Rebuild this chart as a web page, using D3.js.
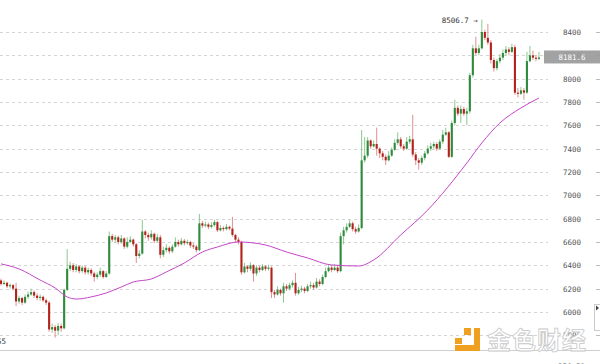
<!DOCTYPE html>
<html>
<head>
<meta charset="utf-8">
<script src="https://cdn.jsdelivr.net/npm/d3@7/dist/d3.min.js"></script>
<style>
  body { margin: 0; background: #fff; }
  svg { display: block; }
</style>
</head>
<body>
<svg id="chart"></svg>
<script>
// candle values, one entry per candle (left to right)
var opens = [
  6270, 6240, 6250, 6220, 6230, 6200, 6090, 6120, 6080, 6130,
  6150, 6170, 6140, 6120, 6130, 6100, 6080, 5850, 5870, 5840,
  5880, 5860, 6190, 6370, 6400, 6360, 6390, 6350, 6380, 6340,
  6360, 6330, 6300, 6320, 6350, 6300, 6330, 6650, 6620, 6640,
  6600, 6630, 6560, 6600, 6620, 6580, 6480, 6500, 6690, 6660,
  6640, 6670, 6610, 6640, 6490, 6530, 6550, 6520, 6560, 6600,
  6580, 6610, 6590, 6600, 6570, 6560, 6530, 6760, 6740, 6750,
  6730, 6745, 6770, 6700, 6720, 6710, 6730, 6715, 6660, 6620,
  6600, 6340, 6390, 6370, 6400, 6330, 6380, 6360, 6390, 6370,
  6380, 6170, 6150, 6190, 6160, 6220, 6200, 6230, 6250, 6160,
  6190, 6200, 6180, 6220, 6230, 6210, 6260, 6240, 6300, 6350,
  6380, 6360, 6380, 6350, 6650, 6700, 6730, 6760, 6710, 6690,
  6720, 7300, 7340, 7470, 7420, 7440, 7400, 7360, 7330, 7300,
  7340, 7390, 7450, 7480, 7420, 7400, 7460, 7480, 7350, 7300,
  7280, 7320, 7360, 7400, 7420, 7440, 7400, 7460, 7520, 7540,
  7330, 7620, 7750, 7700, 7740, 7700, 7720, 8030, 8260, 8220,
  8260, 8400, 8350, 8310, 8160, 8090, 8150, 8180, 8220, 8250,
  8230, 8270, 7880, 7870, 7900, 7880, 8150, 8200, 8180, 8170
];
var highs = [
  6285, 6270, 6260, 6245, 6240, 6250, 6140, 6130, 6150, 6175,
  6200, 6185, 6160, 6150, 6140, 6115, 6095, 5900, 5890, 5905,
  5900, 6200, 6540, 6430, 6420, 6410, 6400, 6400, 6395, 6380,
  6375, 6345, 6340, 6380, 6360, 6350, 6690, 6670, 6660, 6655,
  6660, 6640, 6640, 6650, 6630, 6590, 6530, 6790, 6700, 6680,
  6700, 6680, 6670, 6660, 6560, 6580, 6565, 6580, 6640, 6620,
  6635, 6625, 6620, 6610, 6590, 6575, 6840, 6780, 6775, 6765,
  6770, 6790, 6780, 6745, 6735, 6755, 6740, 6815, 6670, 6640,
  6610, 6420, 6400, 6425, 6410, 6400, 6395, 6410, 6400, 6405,
  6390, 6190, 6220, 6200, 6250, 6240, 6250, 6270, 6335, 6215,
  6225, 6215, 6240, 6260, 6250, 6290, 6280, 6320, 6380, 6410,
  6400, 6410, 6400, 6680, 6730, 6760, 6790, 6775, 6730, 6750,
  7560, 7500, 7500, 7480, 7470, 7580, 7410, 7380, 7350, 7380,
  7410, 7480, 7540, 7500, 7440, 7500, 7510, 7690, 7370, 7320,
  7340, 7380, 7430, 7450, 7460, 7455, 7480, 7560, 7580, 7550,
  7640, 7820, 7770, 7770, 7760, 7750, 8050, 8290, 8360, 8290,
  8506.7, 8420, 8470, 8330, 8180, 8170, 8210, 8250, 8280, 8270,
  8300, 8290, 7920, 7930, 7920, 8230, 8280, 8240, 8200, 8230
];
var lows = [
  6225, 6230, 6205, 6200, 6185, 6050, 6070, 6060, 6070, 6110,
  6140, 6120, 6100, 6095, 6085, 6060, 5830, 5820, 5780, 5800,
  5830, 5850, 6180, 6350, 6340, 6340, 6330, 6335, 6320, 6320,
  6310, 6260, 6280, 6300, 6285, 6290, 6320, 6600, 6595, 6580,
  6585, 6540, 6545, 6590, 6560, 6420, 6460, 6490, 6630, 6610,
  6620, 6590, 6595, 6460, 6470, 6510, 6500, 6505, 6550, 6560,
  6570, 6570, 6575, 6550, 6540, 6510, 6520, 6720, 6725, 6710,
  6715, 6730, 6685, 6690, 6690, 6700, 6700, 6645, 6600, 6580,
  6320, 6330, 6340, 6350, 6260, 6310, 6340, 6350, 6350, 6355,
  6120, 6120, 6140, 6140, 6080, 6180, 6185, 6210, 6140, 6150,
  6170, 6160, 6170, 6200, 6190, 6200, 6220, 6230, 6290, 6340,
  6340, 6350, 6335, 6340, 6580, 6680, 6720, 6690, 6670, 6680,
  6710, 7280, 7320, 7400, 7410, 7340, 7320, 7300, 7260, 7290,
  7330, 7380, 7430, 7400, 7380, 7390, 7440, 7330, 7260, 7220,
  7260, 7300, 7350, 7380, 7400, 7380, 7390, 7440, 7510, 7320,
  7320, 7600, 7680, 7620, 7680, 7600, 7700, 8010, 8200, 8200,
  8250, 8330, 8290, 8130, 8060, 8070, 8130, 8160, 8200, 8200,
  8220, 7860, 7840, 7860, 7820, 7870, 8140, 8160, 8150, 8160
];
var closes = [
  6240, 6250, 6220, 6230, 6200, 6090, 6120, 6080, 6130, 6150,
  6170, 6140, 6120, 6130, 6100, 6080, 5850, 5870, 5840, 5880,
  5860, 6190, 6370, 6400, 6360, 6390, 6350, 6380, 6340, 6360,
  6330, 6300, 6320, 6350, 6300, 6330, 6650, 6620, 6640, 6600,
  6630, 6560, 6600, 6620, 6580, 6480, 6500, 6690, 6660, 6640,
  6670, 6610, 6640, 6490, 6530, 6550, 6520, 6560, 6600, 6580,
  6610, 6590, 6600, 6570, 6560, 6530, 6760, 6740, 6750, 6730,
  6745, 6770, 6700, 6720, 6710, 6730, 6715, 6660, 6620, 6600,
  6340, 6390, 6370, 6400, 6330, 6380, 6360, 6390, 6370, 6380,
  6170, 6150, 6190, 6160, 6220, 6200, 6230, 6250, 6160, 6190,
  6200, 6180, 6220, 6230, 6210, 6260, 6240, 6300, 6350, 6380,
  6360, 6380, 6350, 6650, 6700, 6730, 6760, 6710, 6690, 6720,
  7300, 7340, 7470, 7420, 7440, 7400, 7360, 7330, 7300, 7340,
  7390, 7450, 7480, 7420, 7400, 7460, 7480, 7350, 7300, 7280,
  7320, 7360, 7400, 7420, 7440, 7400, 7460, 7520, 7540, 7330,
  7620, 7750, 7700, 7740, 7700, 7720, 8030, 8260, 8220, 8260,
  8400, 8350, 8310, 8160, 8090, 8150, 8180, 8220, 8250, 8230,
  8270, 7880, 7870, 7900, 7880, 8150, 8200, 8180, 8170, 8181.6
];

// moving average line, read at a few candle positions
var maIndex = [0, 6, 13, 18, 22, 25, 30, 35, 40, 44, 50, 55, 61, 67, 72, 79,
               88, 95, 102, 110, 119, 124, 133, 142, 155, 160, 166, 173, 179];
var maValue = [6412, 6369, 6274, 6206, 6129, 6111, 6129, 6163, 6214, 6257, 6283,
               6343, 6420, 6514, 6557, 6600, 6574, 6514, 6463, 6403, 6394, 6446,
               6660, 6874, 7277, 7449, 7620, 7749, 7834];

var yTicks = [5800, 6000, 6200, 6400, 6600, 6800, 7000, 7200, 7400, 7600, 7800, 8000, 8200, 8400];
var lastPrice = "8181.6";
var maxLabel = "8506.7";

var W = 600, H = 364;
var plotRight = 540, gridRight = 548;
var monoFont = "'DejaVu Sans Mono', monospace";

var svg = d3.select("#chart")
    .attr("width", W)
    .attr("height", H);

svg.append("rect")
    .attr("width", W)
    .attr("height", H)
    .style("fill", "#fff");

var idx = d3.range(closes.length);

var x = d3.scaleBand()
    .domain(idx)
    .range([0, plotRight])
    .paddingInner(0.3);

var y = d3.scaleLinear()
    .domain([5800, 8400])
    .range([335.3, 32]);

// dashed horizontal grid
svg.append("g")
    .attr("class", "grid")
    .selectAll("line")
    .data(yTicks)
    .enter()
    .append("line")
    .attr("x1", 0)
    .attr("x2", gridRight)
    .attr("y1", function(d) { return Math.round(y(d)) + 0.5; })
    .attr("y2", function(d) { return Math.round(y(d)) + 0.5; })
    .style("stroke", "#d4d4d4")
    .style("stroke-dasharray", "3,3");

// right axis labels, via d3 axis then restyled
var yAxis = d3.axisRight(y)
    .tickValues(yTicks)
    .tickSize(0)
    .tickPadding(0)
    .tickFormat(d3.format("d"));

var axisG = svg.append("g")
    .attr("class", "y axis")
    .attr("transform", "translate(563,0)")
    .call(yAxis);
axisG.select(".domain").remove();
axisG.selectAll("text")
    .style("font-family", monoFont)
    .style("font-size", "7.5px")
    .style("fill", "#555");

// little tick marks at the far right edge
svg.append("g")
    .selectAll("line")
    .data(yTicks)
    .enter()
    .append("line")
    .attr("x1", 596)
    .attr("x2", 600)
    .attr("y1", function(d) { return Math.round(y(d)) + 0.5; })
    .attr("y2", function(d) { return Math.round(y(d)) + 0.5; })
    .style("stroke", "#bbb");

// candles
var upDark = "#2f8a3c", upLight = "#8cc890",
    downDark = "#b3211b", downLight = "#e09090";

var candles = svg.append("g")
    .attr("class", "candles")
    .selectAll("g")
    .data(idx)
    .enter()
    .append("g");

candles.append("line")
    .attr("x1", function(i) { return x(i) + x.bandwidth() / 2; })
    .attr("x2", function(i) { return x(i) + x.bandwidth() / 2; })
    .attr("y1", function(i) { return y(highs[i]); })
    .attr("y2", function(i) { return y(lows[i]); })
    .style("stroke", function(i) { return closes[i] >= opens[i] ? upLight : downLight; })
    .style("stroke-width", 1);

candles.append("rect")
    .attr("x", function(i) { return x(i); })
    .attr("width", x.bandwidth())
    .attr("y", function(i) { return y(Math.max(opens[i], closes[i])); })
    .attr("height", function(i) {
        return Math.max(1, Math.abs(y(opens[i]) - y(closes[i])));
    })
    .style("fill", function(i) { return closes[i] >= opens[i] ? upDark : downDark; });

// moving average
var maLine = d3.line()
    .x(function(d, k) { return x(maIndex[k]) + x.bandwidth() / 2; })
    .y(function(d) { return y(d); })
    .curve(d3.curveMonotoneX);

svg.append("path")
    .datum(maValue)
    .attr("d", maLine)
    .style("fill", "none")
    .style("stroke", "#c545c8")
    .style("stroke-width", 1);

// max marker
var maxI = highs.indexOf(d3.max(highs));
svg.append("text")
    .attr("x", x(maxI) - 3)
    .attr("y", y(highs[maxI]) + 1)
    .attr("text-anchor", "end")
    .attr("dominant-baseline", "middle")
    .style("font-family", monoFont)
    .style("font-size", "7.5px")
    .style("fill", "#333")
    .text(maxLabel + " \u2192");

// clipped min label at far left
svg.append("text")
    .attr("x", 6)
    .attr("y", 342)
    .attr("text-anchor", "end")
    .attr("dominant-baseline", "middle")
    .style("font-family", monoFont)
    .style("font-size", "7.5px")
    .style("fill", "#333")
    .text("5755");

// last price box
var lastY = y(+lastPrice);
svg.append("rect")
    .attr("x", 544)
    .attr("y", lastY - 7)
    .attr("width", 56)
    .attr("height", 13)
    .style("fill", "#9a9a9a")
    .style("opacity", 0.92);
svg.append("text")
    .attr("x", 572)
    .attr("y", lastY)
    .attr("text-anchor", "middle")
    .attr("dominant-baseline", "middle")
    .style("font-family", monoFont)
    .style("font-size", "7.5px")
    .style("fill", "#fff")
    .text(lastPrice);

// bottom border and cut-off volume label
svg.append("line")
    .attr("x1", 0).attr("x2", W)
    .attr("y1", 350.5).attr("y2", 350.5)
    .style("stroke", "#cfcfcf");
svg.append("text")
    .attr("x", 558)
    .attr("y", 369)
    .style("font-family", monoFont)
    .style("font-size", "7.5px")
    .style("fill", "#555")
    .text("356.51");

// small scroll box at the right edge
svg.append("rect")
    .attr("x", 594.5).attr("y", 304.5)
    .attr("width", 10).attr("height", 26)
    .style("fill", "#fff")
    .style("stroke", "#ccc");
svg.append("path")
    .attr("d", "M596,305.5 L599,308 L596,310.5 Z")
    .style("fill", "#444");

// watermark
var logo = svg.append("g").style("fill", "#f0a020");
logo.append("rect").attr("x", 464).attr("y", 328).attr("width", 7).attr("height", 7);
logo.append("rect").attr("x", 455).attr("y", 338).attr("width", 7).attr("height", 6);
logo.append("rect").attr("x", 474).attr("y", 328).attr("width", 6).attr("height", 23);
logo.append("rect").attr("x", 455).attr("y", 345).attr("width", 25).attr("height", 6);

svg.append("text")
    .attr("x", 487)
    .attr("y", 349)
    .style("font-family", "'Noto Sans CJK SC', sans-serif")
    .style("font-size", "24px")
    .style("font-weight", "bold")
    .style("fill", "#fff")
    .style("stroke", "#c8c8c8")
    .style("stroke-width", 0.8)
    .style("letter-spacing", "1px")
    .text("金色财经");
</script>
</body>
</html>
